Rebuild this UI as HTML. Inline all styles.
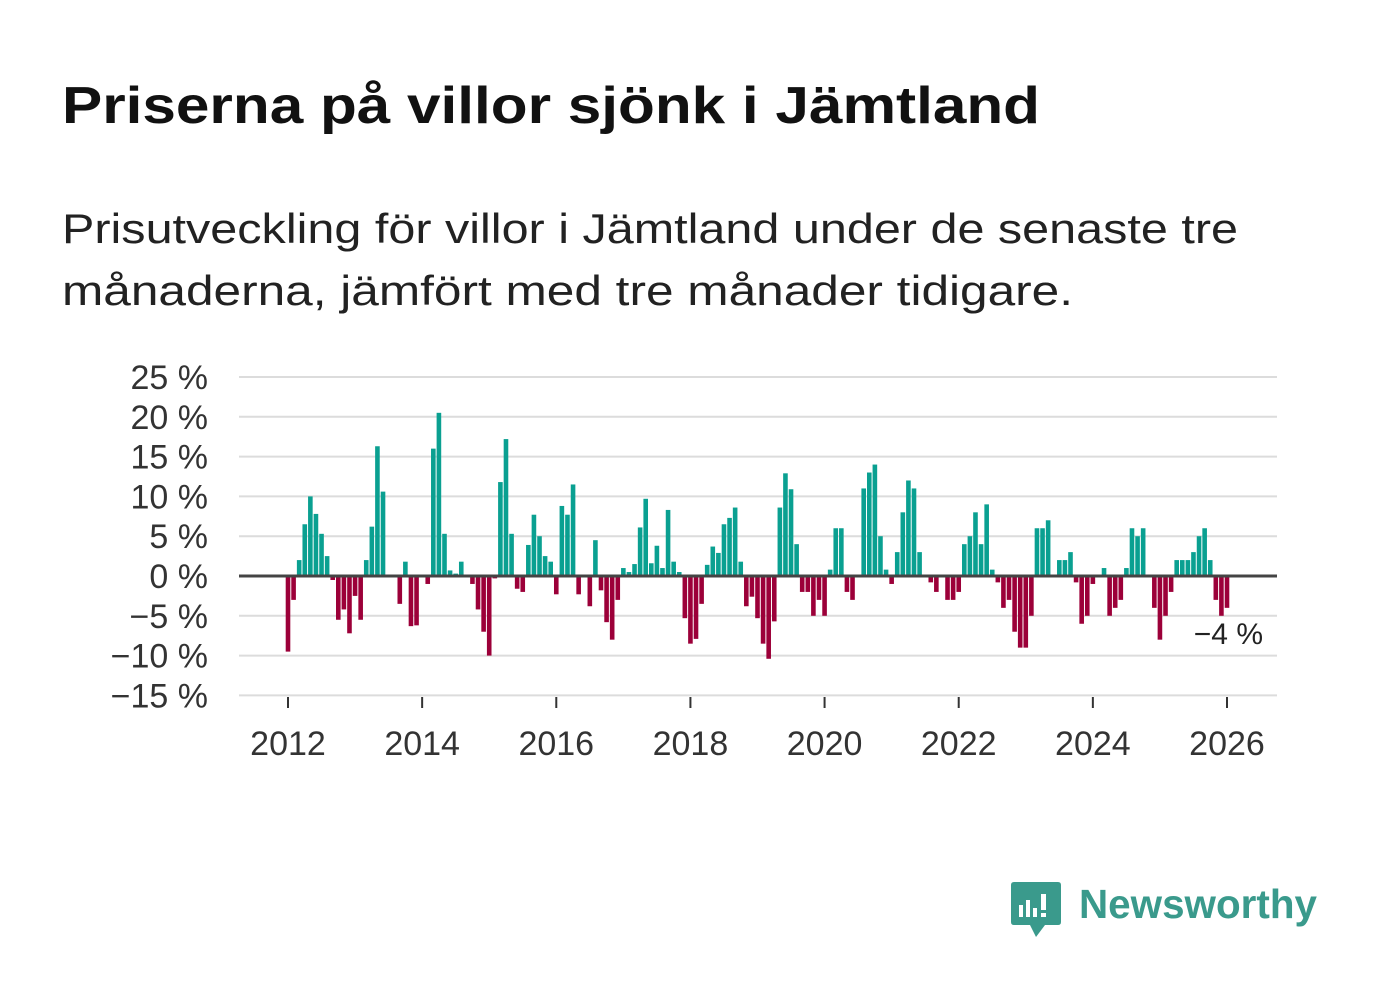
<!DOCTYPE html>
<html><head><meta charset="utf-8"><style>
html,body{margin:0;padding:0;background:#fff;width:1382px;height:999px;overflow:hidden}
svg{display:block;font-family:"Liberation Sans","DejaVu Sans",sans-serif}
</style></head><body>
<svg id="c" width="1382" height="999" viewBox="0 0 1382 999">
<text x="62" y="123" font-size="52" font-weight="bold" fill="#111" textLength="978" lengthAdjust="spacingAndGlyphs">Priserna på villor sjönk i Jämtland</text>
<text x="62" y="243" font-size="42" fill="#222" textLength="1176" lengthAdjust="spacingAndGlyphs">Prisutveckling för villor i Jämtland under de senaste tre</text>
<text x="62" y="305" font-size="42" fill="#222" textLength="1011" lengthAdjust="spacingAndGlyphs">månaderna, jämfört med tre månader tidigare.</text>
<g id="grid"></g>
<g id="bars"></g>
<g id="xaxis"></g>
<text x="1263" y="644" font-size="30" fill="#222" text-anchor="end" stroke="#fff" stroke-width="6" paint-order="stroke">−4 %</text>
<g>
<path d="M1014 882 H1058 Q1061 882 1061 885 V922 Q1061 925 1058 925 H1045 L1036 937 L1030 925 H1014 Q1011 925 1011 922 V885 Q1011 882 1014 882Z" fill="#3a9a8c"/>
<rect x="1019" y="905" width="4" height="12" fill="#fff"/>
<rect x="1026" y="900" width="4" height="17" fill="#fff"/>
<rect x="1033" y="908" width="4" height="9" fill="#fff"/>
<rect x="1041" y="894" width="5" height="16" fill="#fff"/>
<rect x="1041" y="913" width="5" height="4" fill="#fff"/>
<text x="1079" y="918" font-size="41" font-weight="bold" fill="#3a9a8c" textLength="238" lengthAdjust="spacingAndGlyphs">Newsworthy</text>
</g>
</svg>
<script>
const values = [-9.5,-3,2,6.5,10,7.8,5.3,2.5,-0.5,-5.5,-4.2,-7.2,
-2.5,-5.5,2,6.2,16.3,10.6,0,0,-3.5,1.8,-6.3,-6.2,
0,-1,16,20.5,5.3,0.7,0.3,1.8,0,-1,-4.2,-7,
-10,-0.3,11.8,17.2,5.3,-1.6,-2,3.9,7.7,5,2.5,1.8,
-2.3,8.8,7.7,11.5,-2.3,0,-3.8,4.5,-1.8,-5.8,-8,-3,
1,0.5,1.5,6.1,9.7,1.6,3.8,1,8.3,1.8,0.5,-5.3,
-8.5,-7.9,-3.5,1.4,3.7,2.9,6.5,7.3,8.6,1.8,-3.8,-2.6,
-5.3,-8.5,-10.4,-5.7,8.6,12.9,10.9,4,-2,-2,-5,-3,
-5,0.8,6,6,-2,-3,0,11,13,14,5,0.8,
-1,3,8,12,11,3,0,-0.8,-2,0,-3,-3,
-2,4,5,8,4,9,0.8,-0.8,-4,-3,-7,-9,
-9,-5,6,6,7,0,2,2,3,-0.8,-6,-5,
-1,0,1,-5,-4,-3,1,6,5,6,0,-4,
-8,-5,-2,2,2,2,3,5,6,2,-3,-5,
-4];
const startYear = 2012;
const yTicks = [25,20,15,10,5,0,-5,-10,-15];
const yTickLabels = ["25 %","20 %","15 %","10 %","5 %","0 %","−5 %","−10 %","−15 %"];
const xTickYears = [2012,2014,2016,2018,2020,2022,2024,2026];
const NS="http://www.w3.org/2000/svg";
const x0=288, pxMonth=(1227-288)/168, y0=576, pxPct=(576-377)/25;
const xs = m => x0 + m*pxMonth;
const ys = v => y0 - v*pxPct;
function mk(tag, attrs, parent){const e=document.createElementNS(NS,tag);for(const k in attrs)e.setAttribute(k,attrs[k]);parent.appendChild(e);return e;}
const grid=document.getElementById('grid');
yTicks.forEach((t,i)=>{
  if(t!==0){
    const l=mk('line',{x1:239,x2:1277,y1:ys(t),y2:ys(t),stroke:'#dcdcdc','stroke-width':2},grid);
    
    
  }
  const tx=mk('text',{x:208,y:ys(t)+12,'font-size':34,fill:'#333','text-anchor':'end'},grid);
  tx.textContent=yTickLabels[i];
  
  
});
const bars=document.getElementById('bars');
values.forEach((v,i)=>{
  const y=Math.min(ys(v),y0), h=Math.abs(ys(v)-y0);
  const r=mk('rect',{x:xs(i)-2.3,y:y,width:4.6,height:h,fill:v>=0?'#0aa091':'#9c0039'},bars);
  
  
});
const zl=mk('line',{x1:239,x2:1277,y1:y0,y2:y0,stroke:'#444','stroke-width':3},bars);


const xa=document.getElementById('xaxis');
xTickYears.forEach(yr=>{
  const x=xs((yr-startYear)*12);
  const t=mk('line',{x1:x,x2:x,y1:697,y2:708,stroke:'#333','stroke-width':2},xa);
  
  
  const tx=mk('text',{x:x,y:755,'font-size':34,fill:'#333','text-anchor':'middle'},xa);
  tx.textContent=yr;
  
  
});
</script>
</body></html>
